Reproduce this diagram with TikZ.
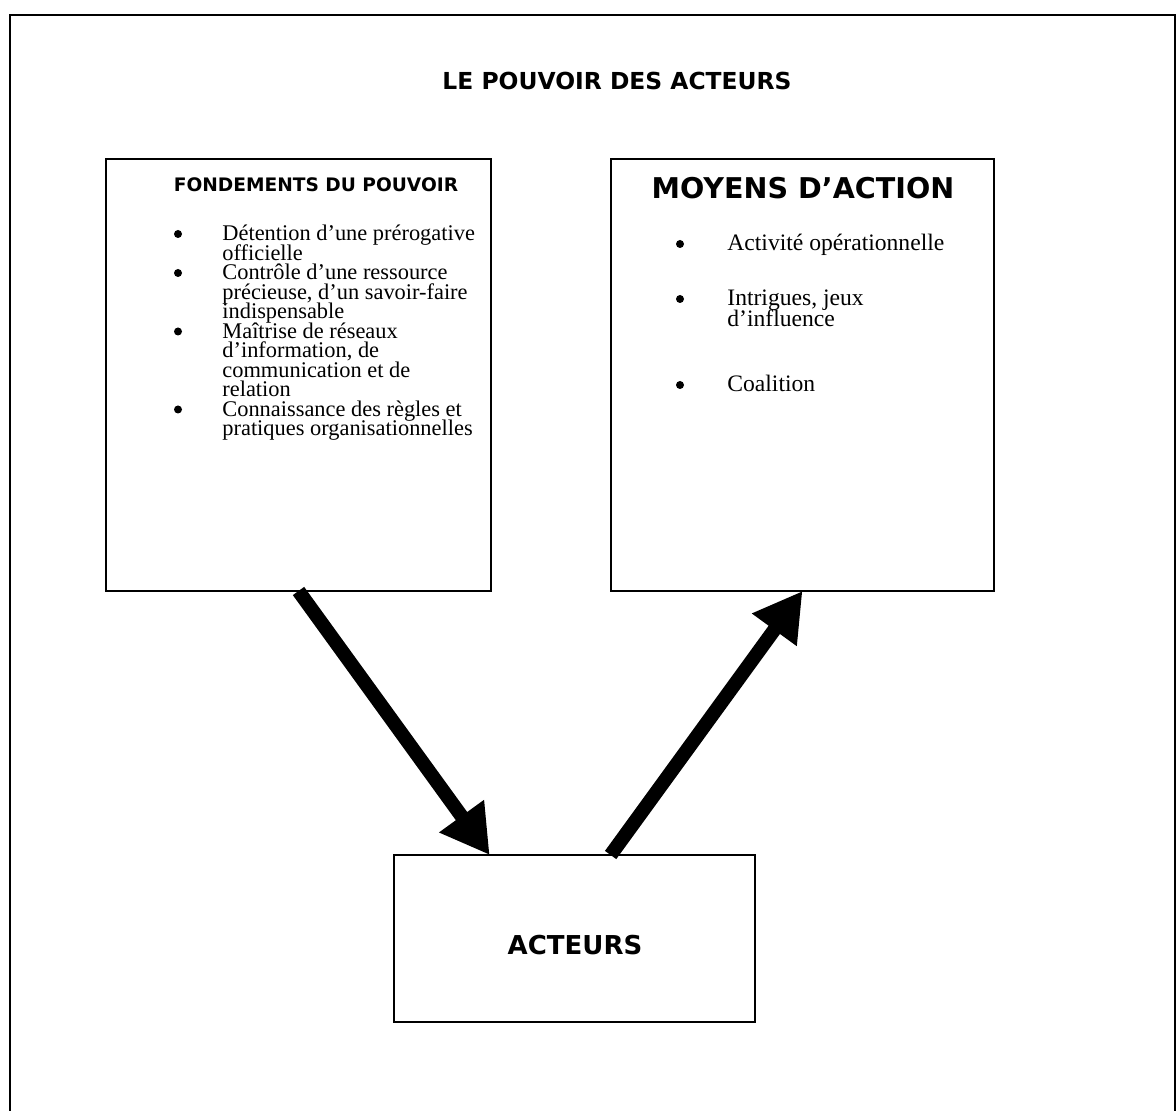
\documentclass[tikz,border=0pt]{standalone}
\usepackage{fontspec}
\setmainfont{Liberation Serif}
\newfontfamily\hdfont{DejaVu Sans}
\usetikzlibrary{arrows.meta,calc}
\begin{document}
\begin{tikzpicture}[x=0.5pt,y=-0.5pt,
  frameline/.style={line width=1.2pt},
  box/.style={draw,line width=1pt,inner sep=0pt,outer sep=0pt},
  bodytext/.style={font=\fontsize{11.2}{12}\selectfont,anchor=base west,inner sep=0pt},
  bodytextr/.style={font=\fontsize{11.8}{13}\selectfont,anchor=base west,inner sep=0pt},
  bul/.style={circle,fill,inner sep=0pt,minimum size=4pt},
  bigarrow/.style={line width=7pt,-{Triangle[length=24pt,width=26pt]}}]
\useasboundingbox (0,0) rectangle (1176,1111);
% outer frame
\draw[frameline] (10,1115) -- (10,15) -- (1175,15) -- (1175,1115);
% title
\node[anchor=base,inner sep=0pt,font=\hdfont\bfseries\fontsize{11.7}{14}\selectfont] (title) at (617,90) {LE POUVOIR DES ACTEURS};
% boxes
\node[box,minimum width=192.5pt,minimum height=216pt] (L) at (298.5,375) {};
\node[box,minimum width=191.5pt,minimum height=216pt] (R) at (802.5,375) {};
\node[box,minimum width=180.5pt,minimum height=83.5pt] (A) at (574.5,938.5) {};
% box headings
\node[anchor=base,inner sep=0pt,font=\hdfont\bfseries\fontsize{9.3}{11}\selectfont] (Lh) at (316,192) {FONDEMENTS DU POUVOIR};
\node[anchor=base,inner sep=0pt,font=\hdfont\bfseries\fontsize{14.3}{17}\selectfont] (Rh) at (803,199) {MOYENS D’ACTION};
\node[anchor=base,inner sep=0pt,font=\hdfont\bfseries\fontsize{13}{16}\selectfont] (Ah) at (575,954) {ACTEURS};
% left list
\node[bul] (lb1) at (178,234) {};
\node[bodytext] (l1) at (222,241) {Détention d’une prérogative};
\node[bodytext] (l2) at (222,260.5) {officielle};
\node[bul] (lb2) at (178,273) {};
\node[bodytext] (l3) at (222,280) {Contrôle d’une ressource};
\node[bodytext] (l4) at (222,299.5) {précieuse, d’un savoir-faire};
\node[bodytext] (l5) at (222,319) {indispensable};
\node[bul] (lb3) at (178,331.5) {};
\node[bodytext] (l6) at (222,338.5) {Maîtrise de réseaux};
\node[bodytext] (l7) at (222,358) {d’information, de};
\node[bodytext] (l8) at (222,377.5) {communication et de};
\node[bodytext] (l9) at (222,397) {relation};
\node[bul] (lb4) at (178,409.5) {};
\node[bodytext] (l10) at (222,416.5) {Connaissance des règles et};
\node[bodytext] (l11) at (222,436) {pratiques organisationnelles};
% right list
\node[bul] (rb1) at (680,244) {};
\node[bodytextr] (r1) at (727,251) {Activité opérationnelle};
\node[bul] (rb2) at (680,299) {};
\node[bodytextr] (r2) at (727,306) {Intrigues, jeux};
\node[bodytextr] (r3) at (727,327) {d’influence};
\node[bul] (rb3) at (680,385) {};
\node[bodytextr] (r4) at (727,392) {Coalition};
% arrows
\coordinate (a1e) at ($(A.north west)!0.265!(A.north east)$);
\coordinate (a2s) at ($(A.north west)!0.6!(A.north east)$);
\draw[bigarrow] (L.south) -- (a1e);
\draw[bigarrow] (a2s) -- (R.south);
\end{tikzpicture}
\end{document}
